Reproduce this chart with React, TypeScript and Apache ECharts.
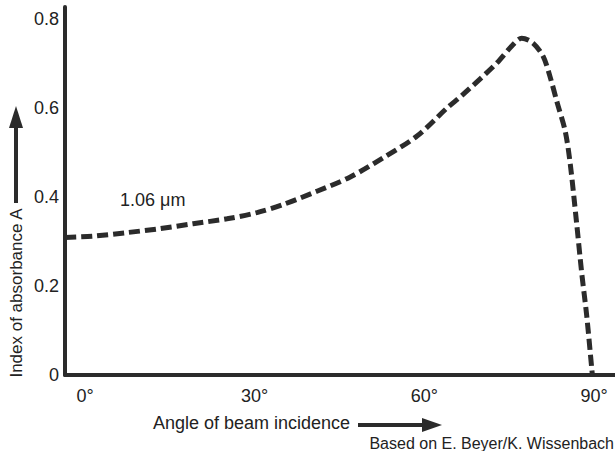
import React, { useEffect, useRef } from "react";
import * as echarts from "echarts";

// Angle of beam incidence (degrees) vs index of absorbance A, 1.06 µm
const angles = [-3.5, 1.4, 7.4, 13.3, 19.1, 25.1, 30.4, 35.0, 41.0, 46.9, 52.7, 58.7, 64.0, 66.8, 72.8, 75.5, 77.2, 79.2, 81.0, 82.2, 83.5, 84.9, 85.8, 86.9, 87.8, 88.7, 89.6, 89.7];
const absorbance = [0.309, 0.312, 0.32, 0.329, 0.34, 0.351, 0.365, 0.383, 0.413, 0.445, 0.488, 0.537, 0.6, 0.63, 0.701, 0.74, 0.757, 0.746, 0.716, 0.671, 0.611, 0.548, 0.473, 0.343, 0.231, 0.133, 0.013, 0.0];
const xTickValues = [0, 30, 60, 90];
const yTickValues = [0, 0.2, 0.4, 0.6, 0.8];

const FONT = "Liberation Sans, Arial, sans-serif";
const INK = "#2b2b2b";

export default function App() {
  const ref = useRef<HTMLDivElement>(null);
  useEffect(() => {
    if (!ref.current) return;
    const chart = echarts.init(ref.current, undefined, { renderer: "svg" });
    const data = angles.map((a, i) => [a, absorbance[i]]);
    chart.setOption({
      animation: false,
      backgroundColor: "#ffffff",
      grid: { left: 65, right: 0, top: 7, bottom: 76, containLabel: false },
      xAxis: {
        type: "value",
        min: -3.54,
        max: 93.7,
        axisLine: { show: true, onZero: false, lineStyle: { color: INK, width: 4 } },
        axisTick: { show: false },
        splitLine: { show: false },
        axisLabel: {
          customValues: xTickValues,
          formatter: (v: number) => `${v}°`,
          color: "#222",
          fontSize: 18,
          fontFamily: FONT,
          margin: 12,
        },
      },
      yAxis: {
        type: "value",
        min: 0,
        max: 0.827,
        axisLine: { show: true, onZero: false, lineStyle: { color: INK, width: 4 } },
        axisTick: { show: false },
        splitLine: { show: false },
        axisLabel: {
          customValues: yTickValues,
          formatter: (v: number) => (v === 0 ? "0" : v.toFixed(1)),
          color: "#222",
          fontSize: 18,
          fontFamily: FONT,
          margin: 6,
        },
      },
      series: [
        {
          type: "line",
          data,
          smooth: 0.3,
          showSymbol: false,
          clip: false,
          lineStyle: { color: INK, width: 5, type: [11, 5], cap: "butt" },
        },
      ],
      graphic: [
        {
          type: "text",
          x: 120,
          y: 200,
          style: { text: "1.06 μm", fontSize: 18, fontFamily: FONT, fill: "#222", textVerticalAlign: "middle" },
        },
        {
          type: "text",
          x: 153,
          y: 423,
          style: { text: "Angle of beam incidence", fontSize: 18, fontFamily: FONT, fill: "#222", textVerticalAlign: "middle" },
        },
        {
          type: "line",
          shape: { x1: 358, y1: 425, x2: 424, y2: 425 },
          style: { stroke: INK, lineWidth: 4 },
        },
        {
          type: "polygon",
          shape: { points: [[422, 418], [442, 425], [422, 432]] },
          style: { fill: INK },
        },
        {
          type: "text",
          x: 614,
          y: 443,
          style: { text: "Based on E. Beyer/K. Wissenbach", fontSize: 16, fontFamily: FONT, fill: "#222", textAlign: "right", textVerticalAlign: "middle" },
        },
        {
          type: "text",
          x: 16,
          y: 293,
          rotation: Math.PI / 2,
          style: { text: "Index of absorbance A", fontSize: 17, fontFamily: FONT, fill: "#222", textAlign: "center", textVerticalAlign: "middle" },
        },
        {
          type: "line",
          shape: { x1: 16, y1: 203, x2: 16, y2: 126 },
          style: { stroke: INK, lineWidth: 4 },
        },
        {
          type: "polygon",
          shape: { points: [[9, 128], [16, 106], [23, 128]] },
          style: { fill: INK },
        },
      ],
    });
    return () => chart.dispose();
  }, []);
  return <div ref={ref} style={{ width: 615, height: 451, position: "absolute", left: 0, top: 0 }} />;
}
